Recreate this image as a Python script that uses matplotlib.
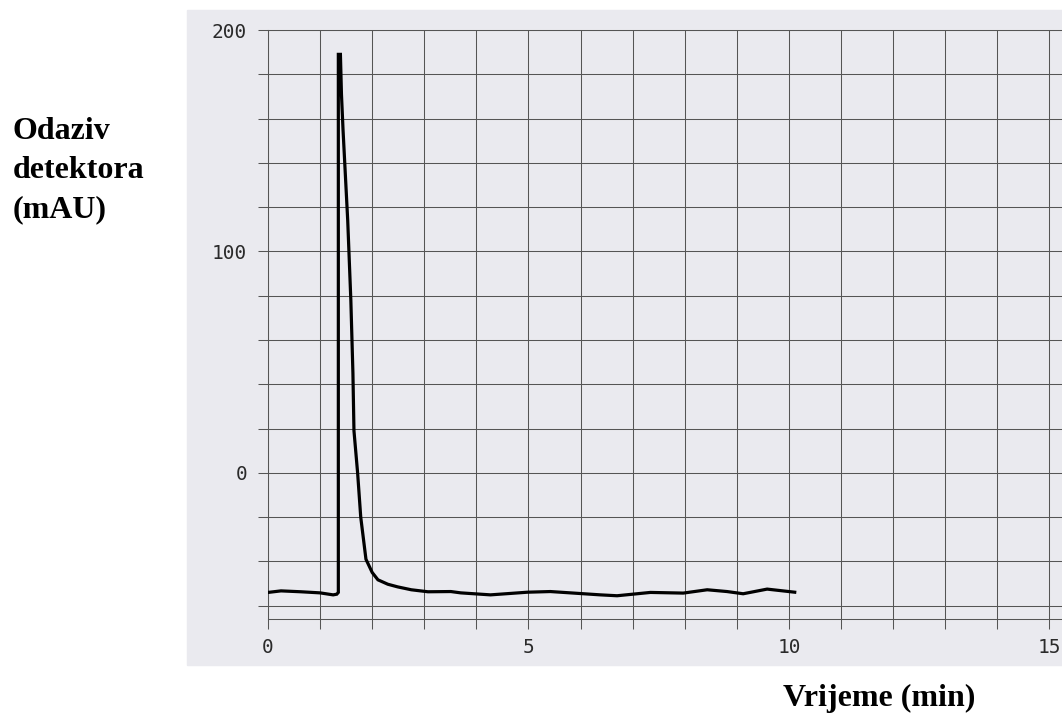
import matplotlib
matplotlib.use("Agg")
import matplotlib.pyplot as plt
from matplotlib.patches import Rectangle
from matplotlib.ticker import MultipleLocator, FuncFormatter

# chromatogram trace (time in min, response in mAU)
time_min = [0.00, 0.25, 0.63, 1.00, 1.25, 1.32, 1.35, 1.35, 1.39, 1.41,
            1.44, 1.53, 1.59, 1.63, 1.65, 1.72, 1.78, 1.88, 2.00, 2.11,
            2.30, 2.49, 2.75, 3.07, 3.51, 3.70, 4.27, 4.98, 5.42, 6.38,
            6.70, 7.34, 7.97, 8.43, 8.81, 9.12, 9.58, 10.11]
response = [-54.0, -53.3, -53.7, -54.2, -55.1, -54.8, -54.0, 189.0, 189.0, 171.0,
            155.0, 114.0, 78.0, 45.0, 19.0, 0.0, -20.0, -39.0, -45.0, -48.3,
            -50.3, -51.5, -52.8, -53.7, -53.6, -54.2, -55.1, -53.9, -53.6, -55.1,
            -55.5, -54.0, -54.3, -52.8, -53.6, -54.6, -52.5, -53.9]

x_labels = {0: "0", 5: "5", 10: "10", 15: "15"}
y_labels = {0: "0", 100: "100", 200: "200"}

bg = "#eaeaef"
grid_col = "#555555"

fig = plt.figure(figsize=(10.62, 7.17), dpi=100)
fig.patch.set_facecolor("white")

# scanned paper area
fig.patches.append(Rectangle((187 / 1062, 52 / 717), 875 / 1062, 655 / 717,
                             transform=fig.transFigure, color=bg, zorder=-5))

# axes runs off the right edge like the cropped scan
ax = fig.add_axes([268 / 1062, 98 / 717, 0.7653, 589 / 717])
ax.set_facecolor(bg)
ax.plot(time_min, response, color="black", lw=2.3, solid_joinstyle="miter", zorder=3)

ax.set_xlim(0, 15.6)
ax.set_ylim(-66, 200)
ax.xaxis.set_major_locator(MultipleLocator(1))
ax.yaxis.set_major_locator(MultipleLocator(20))
ax.xaxis.set_major_formatter(FuncFormatter(lambda v, _: x_labels.get(int(round(v)), "") if abs(v - round(v)) < 1e-6 else ""))
ax.yaxis.set_major_formatter(FuncFormatter(lambda v, _: y_labels.get(int(round(v)), "") if abs(v - round(v)) < 1e-6 else ""))
ax.grid(True, color=grid_col, lw=0.75)
ax.set_axisbelow(True)
ax.tick_params(direction="out", length=7, width=0.75, color=grid_col,
               labelsize=14, labelcolor="#2a2a2a", pad=8)
ax.tick_params(axis="x", pad=7)
for lab in ax.get_xticklabels() + ax.get_yticklabels():
    lab.set_family("DejaVu Sans Mono")
for side in ["left", "bottom", "top"]:
    ax.spines[side].set_color(grid_col)
    ax.spines[side].set_linewidth(0.75)
ax.spines["right"].set_visible(False)

# axis titles sit outside the scan, as in the document
fig.text(13 / 1062, 1 - 117 / 717, "Odaziv\ndetektora\n(mAU)", family="Liberation Serif",
         fontweight="bold", fontsize=23, va="top", ha="left", linespacing=1.45)
fig.text(783 / 1062, 11 / 717, "Vrijeme (min)", family="Liberation Serif",
         fontweight="bold", fontsize=23, va="baseline", ha="left")

plt.savefig("out.png", dpi=100)
